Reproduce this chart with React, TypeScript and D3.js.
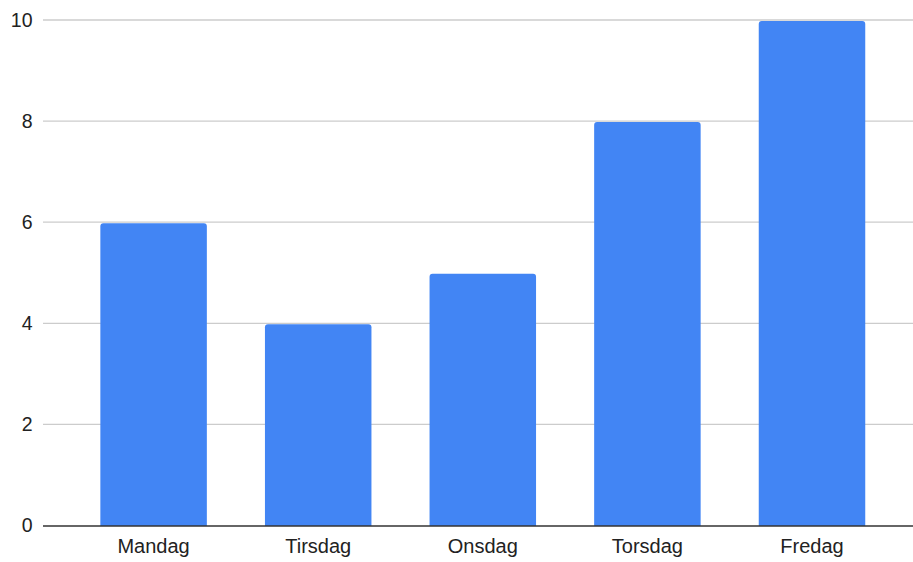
import React from "react";
import * as d3 from "d3";

const categories = ["Mandag", "Tirsdag", "Onsdag", "Torsdag", "Fredag"];
const values = [6, 4, 5, 8, 10];
const yTicks = [0, 2, 4, 6, 8, 10];

const W = 913;
const H = 562;
const FONT = "'Liberation Sans', Arial, sans-serif";

function topRoundedRect(x: number, y: number, w: number, h: number, r: number) {
  const rr = Math.min(r, h, w / 2);
  const p = d3.path();
  p.moveTo(x, y + h);
  p.lineTo(x, y + rr);
  p.arcTo(x, y, x + rr, y, rr);
  p.lineTo(x + w - rr, y);
  p.arcTo(x + w, y, x + w, y + rr, rr);
  p.lineTo(x + w, y + h);
  p.closePath();
  return p.toString();
}

export default function App() {
  const y = d3.scaleLinear().domain([0, 10]).range([526, 20.5]);
  const x = d3
    .scaleBand<string>()
    .domain(categories)
    .range([71.3, 894.3])
    .paddingInner(0.353)
    .paddingOuter(0.1765);

  return (
    <svg
      width={W}
      height={H}
      style={{ position: "absolute", left: 0, top: 0, background: "#fff" }}
    >
      <rect x={0} y={0} width={W} height={H} fill="#fff" />
      {yTicks.map((t) => (
        <g key={t}>
          {t !== 0 && (
            <line x1={43} x2={W} y1={y(t) - 0.5} y2={y(t) - 0.5} stroke="#cccccc" strokeWidth={1.3} />
          )}
          <text
            x={32.5}
            y={y(t) + 6}
            textAnchor="end"
            fontFamily={FONT}
            fontSize={19.5}
            fill="#222"
          >
            {t}
          </text>
        </g>
      ))}
      {categories.map((c, i) => (
        <path
          key={c}
          d={topRoundedRect(x(c)!, y(values[i]) + 0.5, x.bandwidth(), y(0) - y(values[i]) - 0.5, 3)}
          fill="#4285f4"
        />
      ))}
      <line x1={43} x2={W} y1={y(0)} y2={y(0)} stroke="#333" strokeWidth={1.3} />
      {categories.map((c) => (
        <text
          key={c}
          x={x(c)! + x.bandwidth() / 2}
          y={552.5}
          textAnchor="middle"
          fontFamily={FONT}
          fontSize={20}
          fill="#222"
        >
          {c}
        </text>
      ))}
    </svg>
  );
}
